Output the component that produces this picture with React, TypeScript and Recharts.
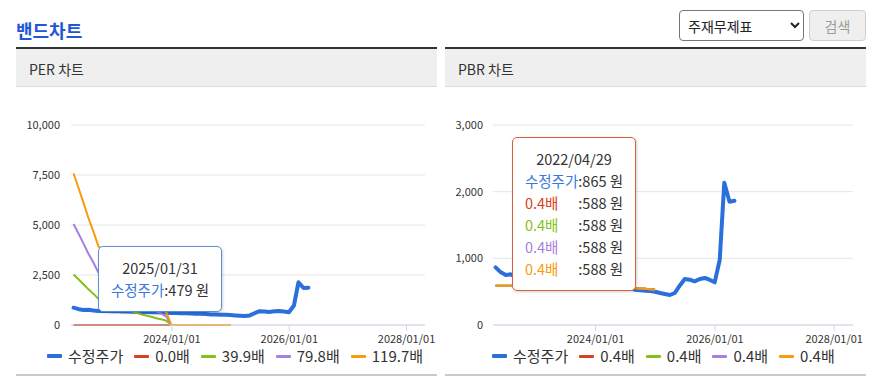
import React from 'react';
import { LineChart, Line, XAxis, YAxis, CartesianGrid, Tooltip } from 'recharts';

const FONT = "'Noto Sans CJK KR', 'Malgun Gothic', sans-serif";

// ---------- data ----------
const dates = [
  '2022-04-29', '2022-05-31', '2022-06-30', '2022-07-29', '2022-08-31', '2022-09-30',
  '2022-10-31', '2022-11-30', '2022-12-29', '2023-01-31', '2023-02-28', '2023-03-31',
  '2023-04-28', '2023-05-31', '2023-06-30', '2023-07-31', '2023-08-31', '2023-09-27',
  '2023-10-31', '2023-11-30', '2023-12-28', '2024-01-31', '2024-02-29', '2024-03-29',
  '2024-04-30', '2024-05-31', '2024-06-28', '2024-07-31', '2024-08-30', '2024-09-30',
  '2024-10-31', '2024-11-29', '2024-12-30', '2025-01-31', '2025-02-28', '2025-03-31',
  '2025-04-30', '2025-05-30', '2025-06-30', '2025-07-31', '2025-08-29', '2025-09-30',
  '2025-10-31', '2025-11-28', '2025-12-30', '2026-01-30', '2026-02-27', '2026-03-31',
  '2026-04-30',
];

// 수정주가 (adjusted price)
const price = [
  865, 790, 750, 760, 725, 705, 695, 700, 685, 690, 680, 672,
  665, 660, 655, 648, 640, 632, 625, 615, 605, 598, 590, 582,
  575, 565, 558, 548, 530, 522, 515, 508, 498, 479, 465, 450,
  480, 590, 690, 680, 655, 690, 705, 680, 640, 975, 2135, 1850,
  1865,
];

// PER bands
const per0x = [
  0, 0, 0, 0, 0, 0, 0, 0, 0, 0, 0, 0, 0, 0, 0, 0, 0,
  0, 0, 0, 0, 0, 0, 0, 0, 0, 0, 0, 0, 0, 0, 0, 0,
];
const per399x = [
  2526, 2274, 2035, 1796, 1556, 1317, 1217, 1117, 1017, 918, 838, 758, 678, 599, 519, 459, 399,
  339, 279, 200, 0, 0, 0, 0, 0, 0, 0, 0, 0, 0, 0, 0, 0,
];
const per798x = [
  5051, 4549, 4070, 3591, 3112, 2633, 2434, 2234, 2035, 1835, 1676, 1516, 1357, 1197, 1037, 918, 798,
  678, 559, 399, 0, 0, 0, 0, 0, 0, 0, 0, 0, 0, 0, 0, 0,
];
const per1197x = [
  7577, 6823, 6105, 5387, 4668, 3950, 3651, 3352, 3052, 2753, 2514, 2274, 2035, 1796, 1556, 1377, 1197,
  1017, 838, 599, 0, 0, 0, 0, 0, 0, 0, 0, 0, 0, 0, 0, 0,
];
const perBandLabels = ['0.0배', '39.9배', '79.8배', '119.7배'];

// PBR bands (all four round to 0.4배 and coincide)
const pbrBandA = [
  588, 588, 588, 588, 588, 578, 578, 578, 574, 574, 574, 568, 568, 568, 563, 563, 563,
  559, 559, 559, 556, 556, 556, 552, 552, 552, 555, 555, 552, 548, 544, 538, 532,
];
const pbrBandB = pbrBandA;
const pbrBandC = pbrBandA;
const pbrBandD = pbrBandA;
const pbrBandLabels = ['0.4배', '0.4배', '0.4배', '0.4배'];

const xTickDates = ['2024-01-01', '2026-01-01', '2028-01-01'];
const xDomainDates = ['2022-04-13', '2028-04-25'];
const perYTicks = [0, 2500, 5000, 7500, 10000];
const pbrYTicks = [0, 1000, 2000, 3000];

const PRICE_COLOR = '#2a6fdb';
const BAND_COLORS = ['#d8411b', '#86bf1a', '#a680e0', '#f99a0d'];

// ---------- helpers ----------
const ts = (d: string) => {
  const [y, m, dd] = d.split('-').map(Number);
  return Date.UTC(y, m - 1, dd);
};
const pad = (n: number) => (n < 10 ? '0' + n : '' + n);
const fmtDate = (t: number) => {
  const d = new Date(t);
  return `${d.getUTCFullYear()}/${pad(d.getUTCMonth() + 1)}/${pad(d.getUTCDate())}`;
};
const fmtNum = (v: number) => v.toLocaleString('en-US');

function buildRows(bands: number[][]) {
  return dates.map((d, i) => {
    const row: any = { t: ts(d), price: price[i] };
    bands.forEach((b, k) => {
      row['b' + k] = i < b.length ? b[i] : null;
    });
    return row;
  });
}

const perRows = buildRows([per0x, per399x, per798x, per1197x]);
const pbrRows = buildRows([pbrBandA, pbrBandB, pbrBandC, pbrBandD]);

// ---------- tooltip ----------
function makeTooltip(rows: any[], idx: number, labels: string[], border: string) {
  return (props: any) => {
    const p = props && props.payload && props.payload[0] ? props.payload[0].payload : rows[idx];
    const row = p || rows[idx];
    const items: { name: string; color: string; value: number }[] = [
      { name: '수정주가', color: '#3a78e0', value: row.price },
    ];
    labels.forEach((l, k) => {
      const v = row['b' + k];
      if (v !== null && v !== undefined) items.push({ name: l, color: BAND_COLORS[k], value: v });
    });
    return (
      <div
        style={{
          width: 124,
          boxSizing: 'border-box',
          border: `1px solid ${border}`,
          borderRadius: 5,
          background: '#fff',
          boxShadow: '1px 1px 3px rgba(0,0,0,0.18)',
          padding: '10px 0',
          fontFamily: FONT,
          fontSize: 14.5,
          lineHeight: '22px',
          color: '#333',
          textAlign: 'center',
        }}
      >
        <div>{fmtDate(row.t)}</div>
        <table style={{ margin: '0 auto', borderCollapse: 'collapse', fontSize: 14.5, lineHeight: '22px' }}>
          <tbody>
            {items.map((it, i) => (
              <tr key={i}>
                <td style={{ padding: 0, color: it.color, textAlign: 'left' }}>{it.name}</td>
                <td style={{ padding: 0, color: '#333', textAlign: 'left' }}>:{fmtNum(it.value)} 원</td>
              </tr>
            ))}
          </tbody>
        </table>
      </div>
    );
  };
}

// ---------- legend ----------
function LegendRow({ labels, left, top }: { labels: string[]; left: number; top: number }) {
  const items = [{ name: '수정주가', color: PRICE_COLOR, h: 4 }].concat(
    labels.map((l, k) => ({ name: l, color: BAND_COLORS[k], h: 3 }))
  );
  return (
    <div
      style={{
        position: 'absolute',
        left,
        top,
        display: 'flex',
        alignItems: 'center',
        fontFamily: FONT,
        fontSize: 15,
        lineHeight: '20px',
        color: '#333',
        whiteSpace: 'nowrap',
      }}
    >
      {items.map((it, i) => (
        <div key={i} style={{ display: 'flex', alignItems: 'center', marginRight: 11 }}>
          <span style={{ display: 'inline-block', width: 15, height: it.h, background: it.color, borderRadius: 1, marginRight: 6 }} />
          <span>{it.name}</span>
        </div>
      ))}
    </div>
  );
}

// ---------- panel ----------
function Panel(props: {
  left: number;
  title: string;
  rows: any[];
  yTicks: number[];
  yMax: number;
  yWidth: number;
  yTickMargin: number;
  marginRight: number;
  labels: string[];
  tipIndex: number;
  tipPos: { x: number; y: number };
  tipBorder: string;
  legendLeft: number;
}) {
  const W = 421;
  return (
    <div style={{ position: 'absolute', left: props.left, top: 0, width: W, height: 389 }}>
      <div style={{ position: 'absolute', left: 0, top: 47, width: W, height: 2, background: '#333' }} />
      <div
        style={{
          position: 'absolute',
          left: 0,
          top: 49,
          width: W,
          height: 37,
          background: '#efefef',
          borderBottom: '1px solid #dcdcdc',
        }}
      />
      <div
        style={{
          position: 'absolute',
          left: 13,
          top: 58,
          fontFamily: FONT,
          fontSize: 14,
          lineHeight: '22px',
          color: '#333',
        }}
      >
        {props.title}
      </div>
      <div style={{ position: 'absolute', left: 0, top: 88 }}>
        <LineChart
          width={W}
          height={270}
          data={props.rows}
          margin={{ top: 37, right: props.marginRight, bottom: 3, left: 0 }}
          style={{ fontFamily: FONT }}
        >
          <CartesianGrid vertical={false} stroke="#e6e6e6" />
          <XAxis
            dataKey="t"
            type="number"
            domain={[ts(xDomainDates[0]), ts(xDomainDates[1])]}
            ticks={xTickDates.map(ts)}
            tickFormatter={fmtDate}
            interval={0}
            allowDataOverflow
            axisLine={{ stroke: '#ccd6eb' }}
            tickLine={{ stroke: '#ccd6eb' }}
            tickSize={6}
            tickMargin={4}
            tick={{ fill: '#333', fontSize: 11 }}
            height={30}
          />
          <YAxis
            type="number"
            domain={[0, props.yMax]}
            ticks={props.yTicks}
            tickFormatter={fmtNum}
            axisLine={false}
            tickLine={false}
            width={props.yWidth}
            tickMargin={props.yTickMargin}
            tick={{ fill: '#333', fontSize: 11 }}
          />
          <Line
            dataKey="price"
            stroke={PRICE_COLOR}
            strokeWidth={4}
            dot={false}
            activeDot={false}
            isAnimationActive={false}
            strokeLinejoin="round"
            strokeLinecap="round"
          />
          {props.labels.map((l, k) => (
            <Line
              key={k}
              dataKey={'b' + k}
              name={l}
              stroke={BAND_COLORS[k]}
              strokeWidth={2}
              dot={false}
              activeDot={false}
              isAnimationActive={false}
            />
          ))}
          <Tooltip
            active
            defaultIndex={props.tipIndex}
            position={props.tipPos}
            cursor={false}
            isAnimationActive={false}
            content={makeTooltip(props.rows, props.tipIndex, props.labels, props.tipBorder)}
          />
        </LineChart>
      </div>
      <div style={{ position: 'absolute', left: 0, top: 374, width: W, height: 2, background: '#cacaca' }} />
      <LegendRow labels={props.labels} left={props.legendLeft} top={346} />
    </div>
  );
}

export default function App() {
  return (
    <div style={{ position: 'absolute', left: 0, top: 0, width: 880, height: 389, background: '#fff', fontFamily: FONT }}>
      <div
        style={{
          position: 'absolute',
          left: 16,
          top: 17,
          fontSize: 18,
          fontWeight: 700,
          lineHeight: '26px',
          color: '#2255d8',
        }}
      >
        밴드차트
      </div>
      <select
        defaultValue="주재무제표"
        style={{
          position: 'absolute',
          left: 679,
          top: 10,
          width: 125,
          height: 31,
          fontSize: 14,
          fontFamily: FONT,
          border: '1px solid #767676',
          borderRadius: 4,
          background: '#fff',
          color: '#222',
          paddingLeft: 4,
        }}
      >
        <option value="주재무제표">주재무제표</option>
      </select>
      <button
        style={{
          position: 'absolute',
          left: 809,
          top: 10,
          width: 57,
          height: 31,
          fontSize: 14,
          fontFamily: FONT,
          background: '#efefef',
          border: '1px solid #cfcfcf',
          borderRadius: 4,
          color: '#9a9a9a',
        }}
      >
        검색
      </button>
      <Panel
        left={16}
        title="PER 차트"
        rows={perRows}
        yTicks={perYTicks}
        yMax={10000}
        yWidth={55}
        yTickMargin={5}
        marginRight={12}
        labels={perBandLabels}
        tipIndex={33}
        tipPos={{ x: 82, y: 158 }}
        tipBorder="#5b8fdc"
        legendLeft={31}
      />
      <Panel
        left={445}
        title="PBR 차트"
        rows={pbrRows}
        yTicks={pbrYTicks}
        yMax={3000}
        yWidth={48}
        yTickMargin={4}
        marginRight={13}
        labels={pbrBandLabels}
        tipIndex={0}
        tipPos={{ x: 67, y: 49 }}
        tipBorder="#d9603a"
        legendLeft={47}
      />
    </div>
  );
}
